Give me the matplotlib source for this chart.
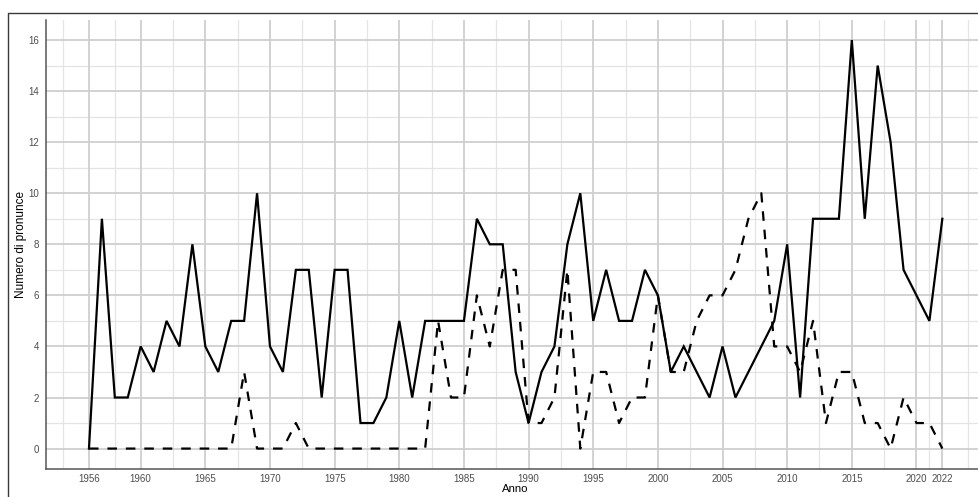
import matplotlib
matplotlib.use("Agg")
import matplotlib.pyplot as plt
from matplotlib.lines import Line2D
import numpy as np

years = list(range(1956, 2023))
solid_values = [0, 9, 2, 2, 4, 3, 5, 4, 8, 4, 3, 5, 5, 10, 4, 3, 7, 7, 2, 7,
                7, 1, 1, 2, 5, 2, 5, 5, 5, 5, 9, 8, 8, 3, 1, 3, 4, 8, 10, 5,
                7, 5, 5, 7, 6, 3, 4, 3, 2, 4, 2, 3, 4, 5, 8, 2, 9, 9, 9, 16,
                9, 15, 12, 7, 6, 5, 9]
dashed_values = [0, 0, 0, 0, 0, 0, 0, 0, 0, 0, 0, 0, 3, 0, 0, 0, 1, 0, 0, 0,
                 0, 0, 0, 0, 0, 0, 0, 5, 2, 2, 6, 4, 7, 7, 1, 1, 2, 7, 0, 3,
                 3, 1, 2, 2, 6, 3, 3, 5, 6, 6, 7, 9, 10, 4, 4, 3, 5, 1, 3, 3,
                 1, 1, 0, 2, 1, 1, 0]
x_ticks = [1956] + list(range(1960, 2021, 5)) + [2022]
x_minor = [1954, 1958] + [t + 2.5 for t in range(1960, 2020, 5)] + [2021, 2024]
y_ticks = list(range(0, 17, 2))
y_minor = list(range(1, 16, 2))

W, H = 979, 497
fig = plt.figure(figsize=(W / 100, H / 100), dpi=100)
plt.rcParams['font.family'] = ['Liberation Sans', 'DejaVu Sans']

left_px, right_px, top_px, bottom_px = 46.3, 985.0, 19.6, 469.0
ax = fig.add_axes([left_px / W, (H - bottom_px) / H,
                   (right_px - left_px) / W, (bottom_px - top_px) / H])
ax.set_xlim(1952.7, 2025.3)
ax.set_ylim(-0.8, 16.8)

for v in x_minor:
    ax.axvline(v, color='#e4e4e4', lw=0.9, zorder=0)
for v in x_ticks:
    ax.axvline(v, color='#cfcfcf', lw=1.3, zorder=0.5)
for v in y_minor:
    ax.axhline(v, color='#e4e4e4', lw=0.9, zorder=0)
for v in y_ticks:
    ax.axhline(v, color='#cfcfcf', lw=1.3, zorder=0.5)

ax.plot(years, solid_values, color='black', lw=1.6, solid_joinstyle='miter', zorder=3)
ax.plot(years, dashed_values, color='black', lw=1.6, dashes=(4.3, 4.0), zorder=3)

ax.set_xticks(x_ticks)
ax.set_xticklabels([str(t) for t in x_ticks])
ax.set_yticks(y_ticks)
ax.tick_params(axis='both', length=0, labelsize=7, labelcolor='#4d4d4d')
ax.tick_params(axis='x', pad=3.5)
ax.tick_params(axis='y', pad=5)

for s in ['top', 'right']:
    ax.spines[s].set_visible(False)
for s in ['left', 'bottom']:
    ax.spines[s].set_color('#555555')
    ax.spines[s].set_linewidth(1.1)

ax.set_xlabel('Anno', fontsize=8.2, labelpad=0)
ax.set_ylabel('Numero di pronunce', fontsize=8.5, labelpad=1)

# outer frame (cropped)
fig.add_artist(Line2D([8 / W, 8 / W, 1.0], [0.0, (H - 13) / H, (H - 13) / H],
                      transform=fig.transFigure, color='#3a3a3a', lw=1.0))

fig.savefig('out.png', dpi=100)
